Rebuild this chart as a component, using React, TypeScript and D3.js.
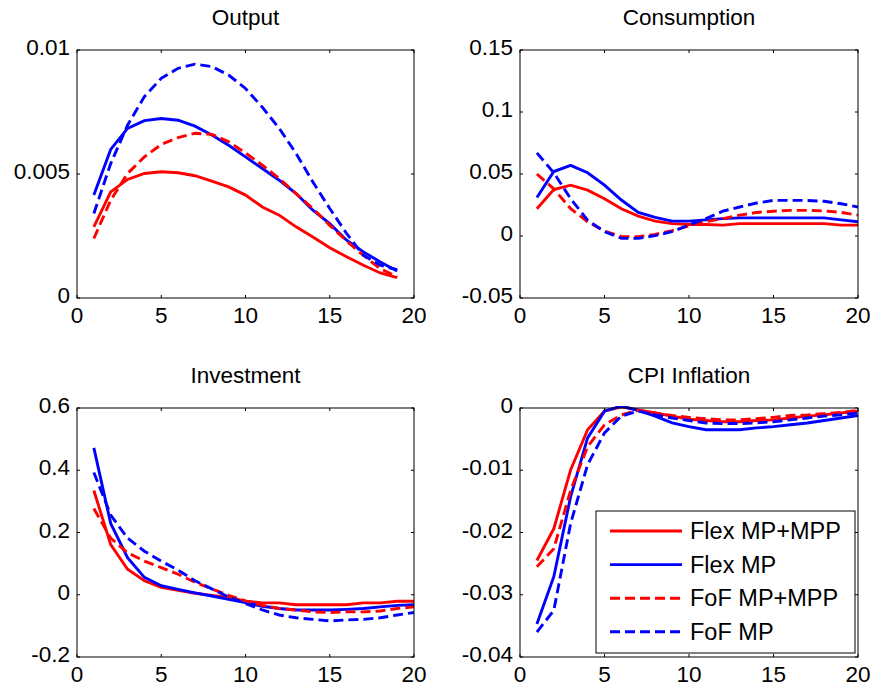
import React, { useEffect, useRef } from "react";
import * as d3 from "d3";

const periodsOutput = d3.range(1, 20);
const periods = d3.range(1, 21);

const seriesNames = ["Flex MP+MPP", "Flex MP", "FoF MP+MPP", "FoF MP"];
const seriesColors = ["#ff0000", "#0000ff", "#ff0000", "#0000ff"];
const seriesDashed = [false, false, true, true];

// Output (19 periods)
const outFlexMPMPP = [0.00287, 0.00428, 0.00478, 0.00502, 0.00509, 0.00505, 0.00493, 0.00471, 0.00448, 0.00415, 0.00367, 0.00334, 0.00287, 0.00246, 0.00203, 0.00166, 0.00132, 0.00101, 0.00082];
const outFlexMP = [0.00415, 0.00599, 0.00684, 0.00715, 0.00724, 0.00717, 0.00693, 0.00657, 0.00616, 0.00569, 0.00522, 0.00475, 0.00421, 0.00354, 0.003, 0.00233, 0.00186, 0.00145, 0.00109];
const outFoFMPMPP = [0.0024, 0.00394, 0.00502, 0.00569, 0.00619, 0.00647, 0.00664, 0.0066, 0.0063, 0.00585, 0.00536, 0.00482, 0.00421, 0.00361, 0.00293, 0.0023, 0.00172, 0.00118, 0.00085];
const outFoFMP = [0.00341, 0.00542, 0.00697, 0.00812, 0.00886, 0.00926, 0.00943, 0.00933, 0.00899, 0.00845, 0.00769, 0.00684, 0.00583, 0.00468, 0.00361, 0.0026, 0.00172, 0.00132, 0.00114];

// Consumption
const conFlexMPMPP = [0.022, 0.0375, 0.041, 0.037, 0.03, 0.022, 0.016, 0.012, 0.01, 0.0093, 0.0093, 0.0088, 0.01, 0.01, 0.01, 0.01, 0.01, 0.01, 0.0088, 0.0088];
const conFlexMP = [0.031, 0.052, 0.057, 0.051, 0.041, 0.029, 0.019, 0.015, 0.012, 0.012, 0.013, 0.014, 0.0146, 0.0146, 0.0146, 0.0146, 0.0146, 0.0146, 0.013, 0.0115];
const conFoFMPMPP = [0.05, 0.038, 0.022, 0.0115, 0.004, -0.0005, -0.0005, 0.0013, 0.0043, 0.0082, 0.0115, 0.014, 0.0168, 0.019, 0.02, 0.0207, 0.0207, 0.0202, 0.019, 0.0168];
const conFoFMP = [0.067, 0.051, 0.03, 0.0128, 0.0035, -0.0019, -0.0019, 0.0003, 0.0035, 0.0088, 0.014, 0.02, 0.0234, 0.0266, 0.0287, 0.0287, 0.0287, 0.028, 0.026, 0.0234];

// Investment
const invFlexMPMPP = [0.335, 0.161, 0.082, 0.045, 0.024, 0.014, 0.005, -0.002, -0.009, -0.021, -0.026, -0.026, -0.032, -0.032, -0.032, -0.032, -0.026, -0.026, -0.021, -0.021];
const invFlexMP = [0.472, 0.229, 0.119, 0.056, 0.029, 0.017, 0.006, -0.004, -0.015, -0.025, -0.037, -0.044, -0.049, -0.049, -0.049, -0.047, -0.044, -0.039, -0.034, -0.032];
const invFoFMPMPP = [0.277, 0.182, 0.135, 0.108, 0.087, 0.066, 0.04, 0.019, -0.002, -0.02, -0.034, -0.044, -0.049, -0.055, -0.057, -0.055, -0.055, -0.052, -0.044, -0.039];
const invFoFMP = [0.393, 0.256, 0.182, 0.14, 0.108, 0.079, 0.045, 0.019, -0.007, -0.028, -0.049, -0.065, -0.074, -0.079, -0.084, -0.081, -0.079, -0.074, -0.065, -0.057];

// CPI Inflation
const cpiFlexMPMPP = [-0.0245, -0.0194, -0.0099, -0.0035, -0.0005, 0.0002, -0.0003, -0.0008, -0.0013, -0.0018, -0.002, -0.0022, -0.0022, -0.002, -0.0019, -0.0016, -0.0013, -0.0011, -0.0008, -0.0005];
const cpiFlexMP = [-0.0347, -0.0271, -0.0142, -0.0048, -0.0005, 0.0003, -0.0004, -0.0013, -0.0024, -0.003, -0.0035, -0.0035, -0.0035, -0.0032, -0.003, -0.0027, -0.0024, -0.002, -0.0016, -0.0012];
const cpiFoFMPMPP = [-0.0255, -0.0226, -0.0132, -0.0062, -0.0027, -0.0011, -0.0004, -0.0008, -0.0012, -0.0015, -0.0017, -0.0019, -0.0019, -0.0017, -0.0015, -0.0012, -0.0011, -0.0009, -0.0007, -0.0004];
const cpiFoFMP = [-0.036, -0.0325, -0.0185, -0.0091, -0.004, -0.0013, -0.0005, -0.0011, -0.0016, -0.002, -0.0024, -0.0025, -0.0025, -0.0024, -0.0022, -0.0019, -0.0016, -0.0013, -0.0011, -0.0008];

const xTicks = [0, 5, 10, 15, 20];
const outYTicks = [0, 0.005, 0.01];
const outYLabels = ["0", "0.005", "0.01"];
const conYTicks = [-0.05, 0, 0.05, 0.1, 0.15];
const conYLabels = ["-0.05", "0", "0.05", "0.1", "0.15"];
const invYTicks = [-0.2, 0, 0.2, 0.4, 0.6];
const invYLabels = ["-0.2", "0", "0.2", "0.4", "0.6"];
const cpiYTicks = [-0.04, -0.03, -0.02, -0.01, 0];
const cpiYLabels = ["-0.04", "-0.03", "-0.02", "-0.01", "0"];

const panels = [
  { title: "Output", x: periodsOutput, series: [outFlexMPMPP, outFlexMP, outFoFMPMPP, outFoFMP], yDomain: [0, 0.01], yTicks: outYTicks, yLabels: outYLabels, box: [77, 50, 414, 298], legend: false },
  { title: "Consumption", x: periods, series: [conFlexMPMPP, conFlexMP, conFoFMPMPP, conFoFMP], yDomain: [-0.05, 0.15], yTicks: conYTicks, yLabels: conYLabels, box: [520, 50, 858, 298], legend: false },
  { title: "Investment", x: periods, series: [invFlexMPMPP, invFlexMP, invFoFMPMPP, invFoFMP], yDomain: [-0.2, 0.6], yTicks: invYTicks, yLabels: invYLabels, box: [77, 408, 414, 657], legend: false },
  { title: "CPI Inflation", x: periods, series: [cpiFlexMPMPP, cpiFlexMP, cpiFoFMPMPP, cpiFoFMP], yDomain: [-0.04, 0], yTicks: cpiYTicks, yLabels: cpiYLabels, box: [520, 408, 858, 657], legend: true },
];

const FONT = "'Liberation Sans', Arial, Helvetica, sans-serif";

export default function App() {
  const ref = useRef<SVGSVGElement>(null);
  useEffect(() => {
    const svg = d3.select(ref.current);
    svg.selectAll("*").remove();
    svg.append("rect").attr("width", 875).attr("height", 688).attr("fill", "#fff");

    panels.forEach((p) => {
      const [x0, y0, x1, y1] = p.box;
      const xs = d3.scaleLinear().domain([0, 20]).range([x0, x1]);
      const ys = d3.scaleLinear().domain(p.yDomain).range([y1, y0]);
      const g = svg.append("g");

      const clipId = "clip-" + p.title.replace(/\s/g, "");
      svg.append("clipPath").attr("id", clipId).append("rect")
        .attr("x", x0).attr("y", y0 - 2).attr("width", x1 - x0).attr("height", y1 - y0 + 4);

      const line = d3.line<number>().x((_, i) => xs(p.x[i])).y((d) => ys(d));
      p.series.forEach((s, k) => {
        g.append("path")
          .attr("d", line(s) as string)
          .attr("fill", "none")
          .attr("stroke", seriesColors[k])
          .attr("stroke-width", 2.9)
          .attr("stroke-dasharray", seriesDashed[k] ? "10,5" : null)
          .attr("clip-path", `url(#${clipId})`);
      });

      g.append("rect").attr("x", x0).attr("y", y0).attr("width", x1 - x0).attr("height", y1 - y0)
        .attr("fill", "none").attr("stroke", "#000").attr("stroke-width", 1);

      xTicks.forEach((t) => {
        const x = xs(t);
        g.append("line").attr("x1", x).attr("x2", x).attr("y1", y1).attr("y2", y1 - 3).attr("stroke", "#000");
        g.append("line").attr("x1", x).attr("x2", x).attr("y1", y0).attr("y2", y0 + 3).attr("stroke", "#000");
        g.append("text").attr("x", x).attr("y", y1 + 25).attr("text-anchor", "middle")
          .attr("font-family", FONT).attr("font-size", 22.5).attr("fill", "#000").text(String(t));
      });
      p.yTicks.forEach((t, i) => {
        const y = ys(t);
        g.append("line").attr("x1", x0).attr("x2", x0 + 3).attr("y1", y).attr("y2", y).attr("stroke", "#000");
        g.append("line").attr("x1", x1).attr("x2", x1 - 3).attr("y1", y).attr("y2", y).attr("stroke", "#000");
        g.append("text").attr("x", x0 - 7).attr("y", y + 5).attr("text-anchor", "end")
          .attr("font-family", FONT).attr("font-size", 22.5).attr("fill", "#000").text(p.yLabels[i]);
      });
      g.append("text").attr("x", (x0 + x1) / 2).attr("y", y0 - 25).attr("text-anchor", "middle")
        .attr("font-family", FONT).attr("font-size", 22.5).attr("fill", "#000").text(p.title);

      if (p.legend) {
        const lx = 596, ly = 511, lw = 259, lh = 142;
        const lg = svg.append("g");
        lg.append("rect").attr("x", lx).attr("y", ly).attr("width", lw).attr("height", lh)
          .attr("fill", "#fff").attr("stroke", "#000").attr("stroke-width", 1);
        seriesNames.forEach((name, k) => {
          const cy = 531 + k * 33.6;
          lg.append("line").attr("x1", 610).attr("x2", 682).attr("y1", cy).attr("y2", cy)
            .attr("stroke", seriesColors[k]).attr("stroke-width", 2.9)
            .attr("stroke-dasharray", seriesDashed[k] ? "10,5" : null);
          lg.append("text").attr("x", 690).attr("y", cy + 8).attr("font-family", FONT)
            .attr("font-size", 23.5).attr("fill", "#000").text(name);
        });
      }
    });
  }, []);

  return (
    <svg ref={ref} width={875} height={688}
      style={{ position: "absolute", left: 0, top: 0, display: "block" }} />
  );
}
